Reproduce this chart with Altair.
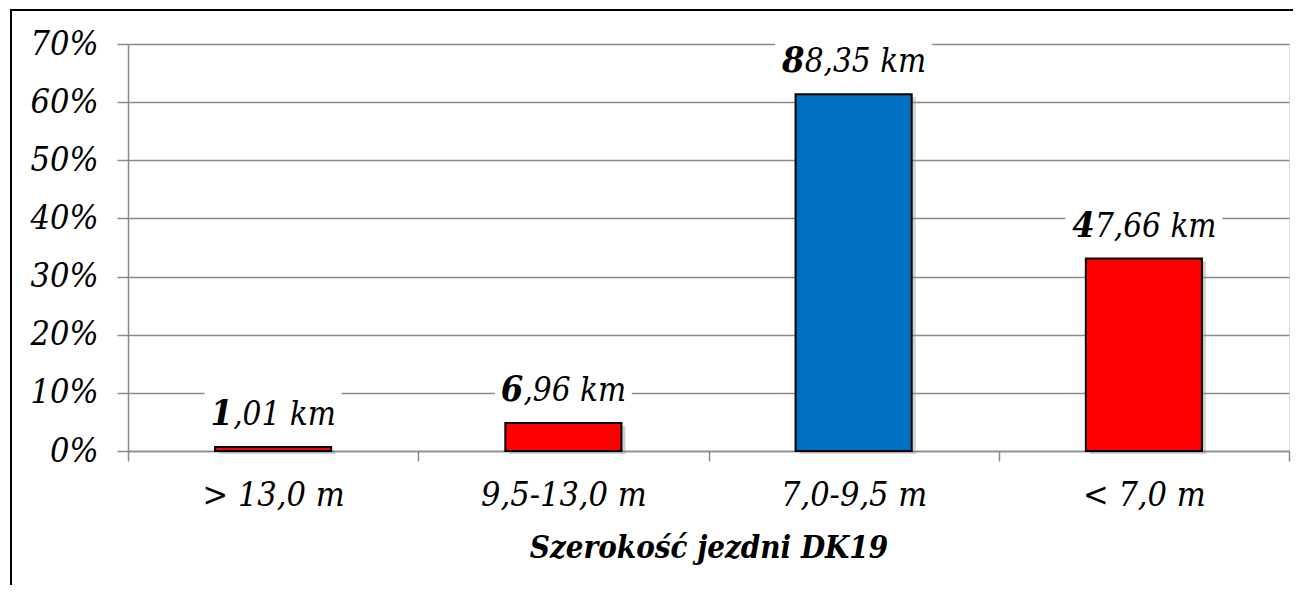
import altair as alt
import pandas as pd

# ---- data ----
categories = ["> 13,0 m", "9,5-13,0 m", "7,0-9,5 m", "< 7,0 m"]
share_pct = [0.70, 4.83, 61.36, 33.10]
length_km = ["1,01", "6,96", "88,35", "47,66"]
group = ["inne", "inne", "główna", "inne"]

df = pd.DataFrame({
    "cat": categories,
    "pct": share_pct,
    "km": length_km,
    "grp": group,
})
df["label"] = df["km"] + " km"

W, H = 1161, 407
FONT = "DejaVu Serif Condensed"
GRID = "#8a8a8a"

x_enc = alt.X(
    "cat:N",
    sort=categories,
    scale=alt.Scale(paddingInner=0, paddingOuter=0),
    axis=alt.Axis(
        title="Szerokość jezdni DK19",
        labelAngle=0,
        labelFont=FONT,
        labelFontSize=34,
        labelFontStyle="italic",
        labelColor="#000",
        labelBaseline="alphabetic",
        labelPadding=44,
        labelLimit=0,
        tickBand="extent",
        tickSize=10,
        tickColor=GRID,
        tickWidth=1.5,
        domainColor=GRID,
        domainWidth=1.5,
        grid=False,
        titleFont=FONT,
        titleFontSize=31,
        titleFontStyle="italic",
        titleFontWeight="bold",
        titleColor="#000",
        titleBaseline="alphabetic",
        titleY=106,
    ),
)

y_enc = alt.Y(
    "pct:Q",
    scale=alt.Scale(domain=[0, 70], nice=False),
    axis=alt.Axis(
        title=None,
        values=[0, 10, 20, 30, 40, 50, 60, 70],
        labelExpr="datum.value + '%'",
        labelFont=FONT,
        labelFontSize=34,
        labelFontStyle="italic",
        labelColor="#000",
        labelPadding=19,
        tickSize=11,
        tickColor=GRID,
        tickWidth=1.5,
        domainColor=GRID,
        domainWidth=1.5,
        grid=True,
        gridColor=GRID,
        gridWidth=1.5,
    ),
)

color_enc = alt.Color(
    "grp:N",
    scale=alt.Scale(domain=["inne", "główna"], range=["#ff0000", "#0070c0"]),
    legend=None,
)

base = alt.Chart(df)

shadow = base.mark_bar(
    width={"band": 0.4}, color="#7f7f7f", opacity=0.35,
    xOffset=4, yOffset=3, y2Offset=3,
).encode(x=x_enc, y=y_enc)

bars = base.mark_bar(
    width={"band": 0.4}, stroke="#000", strokeWidth=2,
).encode(x=x_enc, y=y_enc, color=color_enc)

boxes = base.transform_calculate(
    boxw="length(datum.label) * 20 - 3"
).mark_bar(color="white", yOffset=-12, y2Offset=-60).encode(
    x=x_enc,
    y=alt.Y("pct:Q"),
    y2=alt.Y2("pct"),
    size=alt.Size("boxw:Q", scale=None, legend=None),
)

labelled = base.transform_calculate(
    first="substring(datum.label, 0, 1)",
    rest="substring(datum.label, 1)",
)


def label_layers(expr, split):
    sub = labelled.transform_filter(expr)
    bold = sub.mark_text(
        align="right", baseline="alphabetic", dx=split, dy=-22,
        font=FONT, fontSize=36, fontWeight="bold", fontStyle="italic", color="#000",
    ).encode(x=alt.X("cat:N", sort=categories), y=alt.Y("pct:Q"), text="first:N")
    rest = sub.mark_text(
        align="left", baseline="alphabetic", dx=split, dy=-22,
        font=FONT, fontSize=33, fontStyle="italic", color="#000",
    ).encode(x=alt.X("cat:N", sort=categories), y=alt.Y("pct:Q"), text="rest:N")
    return [bold, rest]


short_lbl = label_layers("length(datum.label) == 7", -40)
long_lbl = label_layers("length(datum.label) == 8", -49)

frame = alt.Chart(pd.DataFrame({"k": [0]}))
left_border = frame.mark_rule(color="#000", strokeWidth=2).encode(
    x=alt.value(-117), y=alt.value(-35), y2=alt.value(H + 200)
)
top_border = frame.mark_rule(color="#000", strokeWidth=2).encode(
    x=alt.value(-118), x2=alt.value(W + 60), y=alt.value(-34)
)

chart = alt.layer(
    shadow, bars, boxes, *short_lbl, *long_lbl, left_border, top_border
).properties(
    width=W,
    height=H,
    autosize="none",
    padding={"left": 120, "top": 36, "right": 4, "bottom": 134},
).configure_view(stroke=None).configure(background="white")

chart.save("out.html", embed_options={"renderer": "svg", "actions": False})
